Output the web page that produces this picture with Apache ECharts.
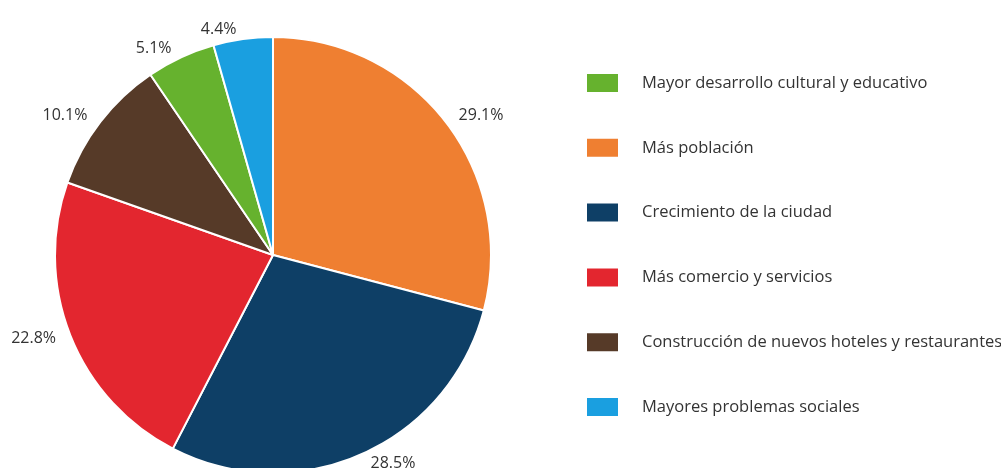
<!DOCTYPE html>
<html>
<head>
<meta charset="utf-8">
<script src="https://cdn.jsdelivr.net/npm/echarts@6/dist/echarts.min.js"></script>
<style>
  html, body { margin: 0; padding: 0; background: #fff; }
  #main { width: 1001px; height: 468px; }
</style>
</head>
<body>
<div id="main"></div>
<script>
// categories in pie order (clockwise from 12 o'clock)
var categories = [
  'Más población',
  'Crecimiento de la ciudad',
  'Más comercio y servicios',
  'Construcción de nuevos hoteles y restaurantes',
  'Mayor desarrollo cultural y educativo',
  'Mayores problemas sociales'
];
var values = [29.1, 28.5, 22.8, 10.1, 5.1, 4.4];
var colors = ['#ef7f31', '#0e3f66', '#e3262f', '#563a28', '#66b22e', '#1a9fe0'];
// legend order as shown at the right
var legendOrder = [
  'Mayor desarrollo cultural y educativo',
  'Más población',
  'Crecimiento de la ciudad',
  'Más comercio y servicios',
  'Construcción de nuevos hoteles y restaurantes',
  'Mayores problemas sociales'
];

var chart = echarts.init(document.getElementById('main'));

var pieData = categories.map(function (name, i) {
  return { name: name, value: values[i], itemStyle: { color: colors[i] } };
});

var option = {
  backgroundColor: '#fff',
  animation: false,
  legend: {
    orient: 'vertical',
    left: 585,
    top: 72,
    padding: 0,
    itemWidth: 33,
    itemHeight: 20,
    itemGap: 42.8,
    icon: 'rect',
    data: legendOrder,
    selectedMode: false,
    textStyle: {
      fontFamily: 'Open Sans',
      fontSize: 16.5,
      color: '#333',
      padding: [0, 0, 0, 18]
    }
  },
  series: [{
    type: 'pie',
    center: [273, 255],
    radius: 218,
    startAngle: 90,
    clockwise: true,
    avoidLabelOverlap: false,
    itemStyle: { borderColor: '#fff', borderWidth: 2 },
    label: {
      show: true,
      position: 'outside',
      formatter: function (p) { return p.value.toFixed(1) + '%'; },
      fontFamily: 'Open Sans',
      fontSize: 16,
      color: '#333'
    },
    labelLine: { show: false, length: 10, length2: 0 },
    data: pieData
  }]
};

chart.setOption(option);
</script>
</body>
</html>
